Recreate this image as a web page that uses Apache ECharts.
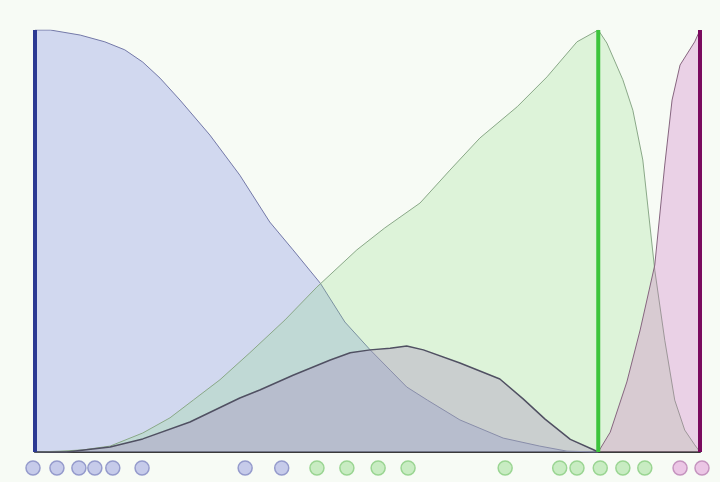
<!DOCTYPE html>
<html>
<head>
<meta charset="utf-8">
<script src="https://cdn.jsdelivr.net/npm/echarts@6/dist/echarts.min.js"></script>
<style>html,body{margin:0;padding:0;background:#f7fbf5;}#c{width:720px;height:482px;}</style>
</head>
<body>
<div id="c"></div>
<script>
// Density curves: x on a 0..100 scale, y normalised 0..1
const blueX  = [0, 2.3, 6.8, 10.5, 13.5, 16.2, 18.8, 21.8, 26.3, 30.8, 35.3, 38.8, 42.9, 46.6, 50.4, 53.4, 55.9, 59.0, 63.9, 70.4, 75.9, 80.0, 84.7];
const blueY  = [1.0, 1.0, 0.988, 0.972, 0.953, 0.924, 0.886, 0.834, 0.751, 0.656, 0.545, 0.479, 0.400, 0.308, 0.242, 0.194, 0.154, 0.123, 0.076, 0.033, 0.014, 0.002, 0];

const greenX = [0, 3.8, 7.2, 11.3, 16.2, 20.3, 23.8, 27.8, 32.3, 37.6, 42.4, 48.4, 52.6, 57.9, 62.4, 66.9, 72.5, 77.0, 81.5, 83.9, 84.7, 86.0, 88.4, 89.9, 91.4, 93.2, 94.7, 96.2, 97.7, 99.2, 100];
const greenY = [0, 0.002, 0.005, 0.014, 0.045, 0.081, 0.123, 0.171, 0.235, 0.313, 0.391, 0.479, 0.531, 0.590, 0.668, 0.744, 0.818, 0.889, 0.972, 0.993, 1.0, 0.969, 0.882, 0.810, 0.692, 0.431, 0.265, 0.123, 0.052, 0.017, 0];

const grayX  = [0, 4.8, 11.3, 16.2, 23.3, 30.8, 33.8, 38.8, 44.4, 47.4, 50.4, 53.4, 55.9, 58.4, 63.9, 69.9, 73.4, 76.7, 80.5, 83.9, 84.7];
const grayY  = [0, 0, 0.012, 0.031, 0.071, 0.128, 0.147, 0.182, 0.218, 0.235, 0.242, 0.246, 0.251, 0.242, 0.211, 0.173, 0.126, 0.078, 0.030, 0.006, 0];

const purpleX = [84.7, 85.0, 86.5, 89.0, 91.0, 93.2, 94.7, 95.8, 97.0, 99.2, 100];
const purpleY = [0, 0, 0.047, 0.166, 0.289, 0.443, 0.680, 0.834, 0.917, 0.972, 1.0];

// Peak markers (x positions)
const bluePeak = 0, greenPeak = 84.7, purplePeak = 100;

// Rug points (observations)
const blueRug   = [-0.3, 3.3, 6.6, 9.0, 11.7, 16.1, 31.6, 37.1];
const greenRug  = [42.4, 46.9, 51.6, 56.1, 70.7, 78.9, 81.5, 85.0, 88.4, 91.7];
const purpleRug = [97.0, 100.3];
const rugLevel = -0.038;

const zip = (xs, ys) => xs.map((x, i) => [x, ys[i]]);
const rug = arr => arr.map(x => [x, rugLevel]);

function area(name, xs, ys, fill, stroke, w, z) {
  return {
    name, type: 'line', data: zip(xs, ys), symbol: 'none', smooth: false, z,
    lineStyle: {color: stroke, width: w},
    areaStyle: {color: fill, origin: 'auto'},
    silent: true
  };
}
function vline(x, color, z) {
  return {type: 'line', data: [[x, 0], [x, 1]], symbol: 'none', z,
    lineStyle: {color, width: 4}, silent: true};
}
function rugSeries(arr, fill, stroke) {
  return {type: 'scatter', data: rug(arr), symbol: 'circle', symbolSize: 14, clip: false, z: 10,
    itemStyle: {color: fill, borderColor: stroke, borderWidth: 1.5, opacity: 1}};
}

const chart = echarts.init(document.getElementById('c'));
chart.setOption({
  backgroundColor: '#f7fbf5',
  animation: false,
  grid: {left: 35, right: 20, top: 30, bottom: 0},
  xAxis: {type: 'value', min: 0, max: 100, splitLine: {show: false},
    axisTick: {show: false}, axisLabel: {show: false},
    axisLine: {show: true, onZero: true, lineStyle: {color: '#3a3a3a', width: 2}}},
  yAxis: {type: 'value', min: -0.0711, max: 1, show: false, splitLine: {show: false}},
  series: [
    area('blue', blueX, blueY, 'rgba(112,124,222,0.40)', '#7479a8', 1, 2),
    area('green', greenX, greenY, 'rgba(145,218,137,0.36)', '#8aa888', 1, 3),
    area('gray', grayX, grayY, 'rgba(165,135,190,0.48)', '#505062', 1.5, 4),
    area('purple', purpleX, purpleY, 'rgba(203,110,194,0.42)', '#86657f', 1, 5),
    vline(bluePeak, '#2b3992', 6),
    vline(greenPeak, '#3cc43c', 6),
    vline(purplePeak, '#7a0a5e', 6),
    rugSeries(blueRug, '#c6cbea', '#959bcc'),
    rugSeries(greenRug, '#c8ecc2', '#9ad592'),
    rugSeries(purpleRug, '#ebc6e5', '#c594bf')
  ]
});
</script>
</body>
</html>
